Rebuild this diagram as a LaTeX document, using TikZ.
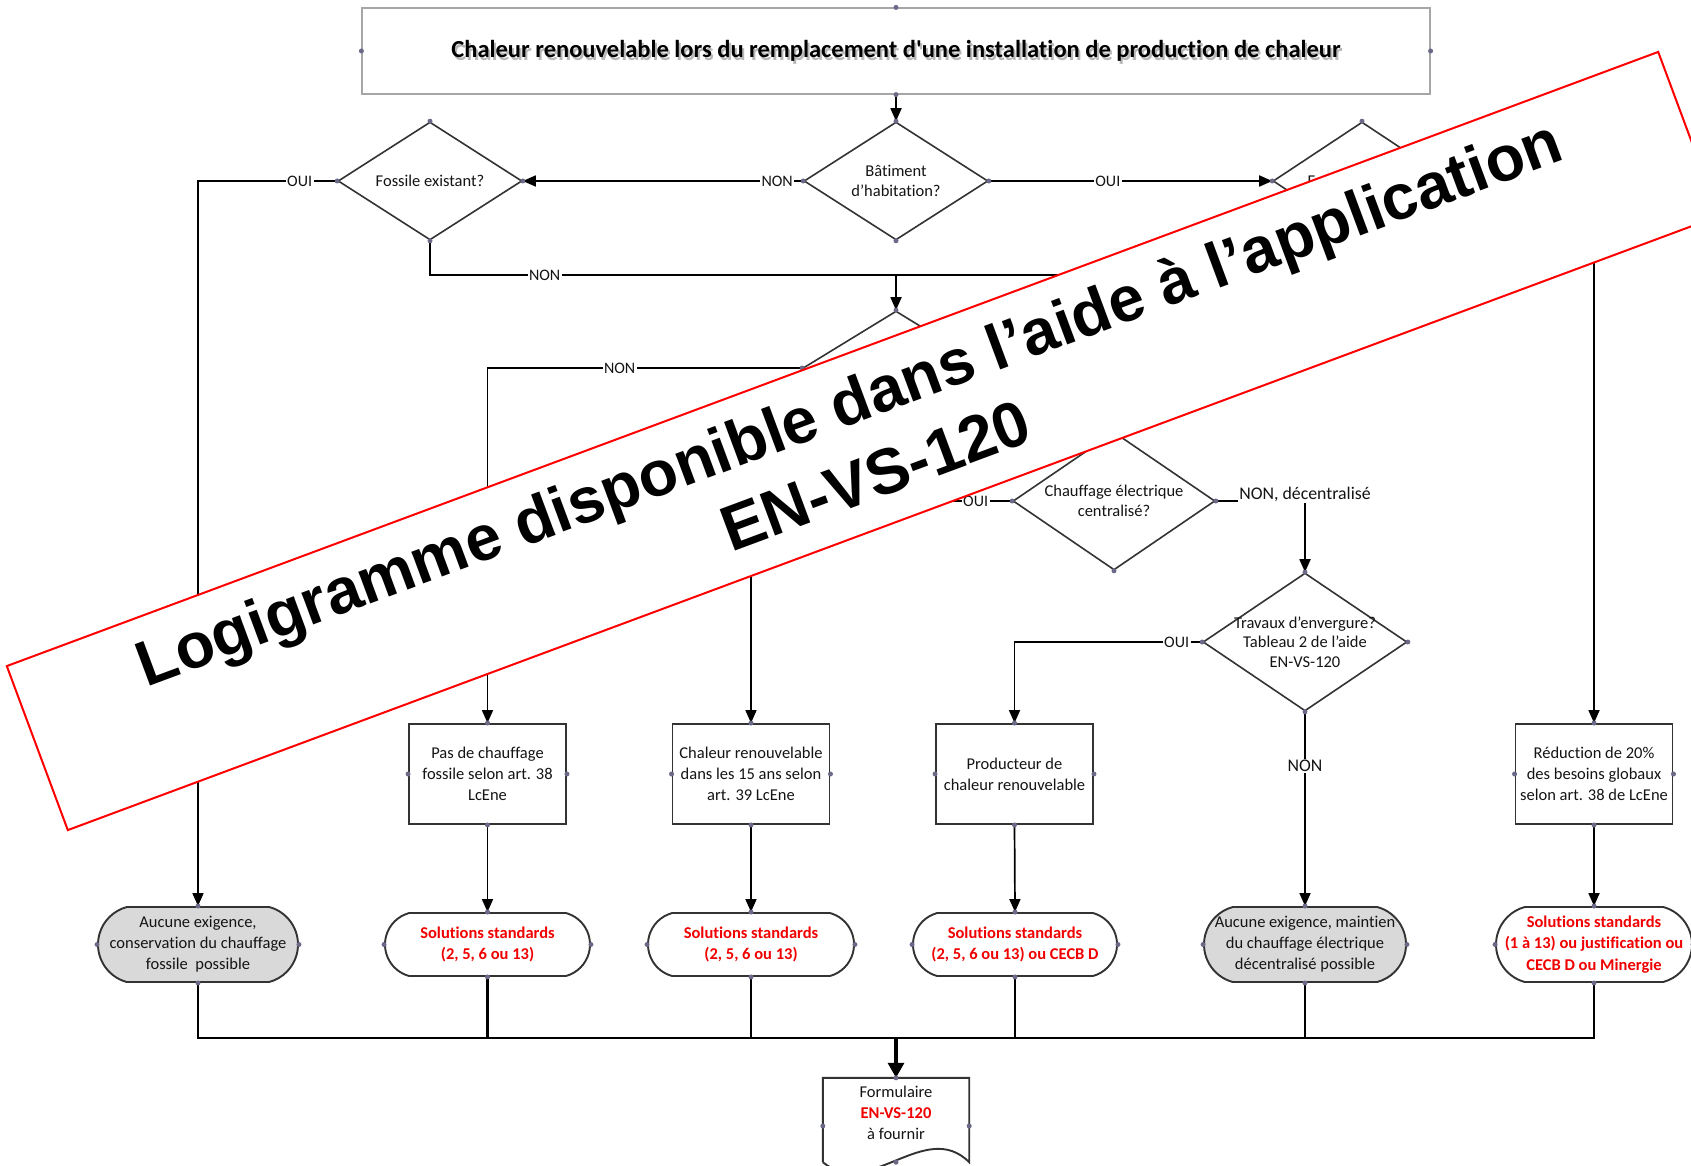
\documentclass[tikz,border=0pt]{standalone}
\usepackage{fontspec}
\setmainfont{Carlito}[Ligatures={TeX,NoCommon}]
\newfontfamily\titlefam{Carlito}[Ligatures={TeXOff,NoCommon}]
\newfontfamily\bannerfont{Liberation Sans}
\usetikzlibrary{shapes.geometric,shapes.misc,arrows.meta,calc}
\definecolor{txt}{HTML}{141414}
\definecolor{edgec}{HTML}{333333}
\definecolor{dotc}{HTML}{6A6A88}
\definecolor{redtxt}{HTML}{F00000}
\definecolor{grayfill}{HTML}{D9D9D9}
\definecolor{titleedge}{HTML}{A6A6A6}
\begin{document}
\begin{tikzpicture}[x=1pt,y=-1pt,
 every node/.style={font=\fontsize{16.5}{21}\selectfont, text=txt},
 conn/.style={line width=1.7pt, black},
 arr/.style={conn, -{Triangle[length=13pt,width=11pt]}},
 decision/.style={diamond, draw=edgec, line width=1.6pt, fill=white, inner sep=0pt},
 dtext/.style={align=center, font=\fontsize{16.5}{19.5}\selectfont},
 ttext/.style={align=center, font=\fontsize{16.5}{21}\selectfont},
 rtext/.style={align=center, text=redtxt, font=\fontsize{16.5}{21.5}\selectfont\bfseries},
 procbox/.style={rectangle, draw=edgec, line width=1.9pt, fill=white, minimum width=157, minimum height=100, align=center, inner sep=0pt},
 term/.style={rounded rectangle, rounded rectangle arc length=150, draw=edgec, line width=1.9pt, fill=white, inner sep=0pt},
 lab/.style={fill=white, inner sep=1.5pt, font=\fontsize{16}{18}\selectfont},
 labbig/.style={fill=white, inner sep=1.5pt, font=\fontsize{17.8}{20}\selectfont},
 titlefont/.style={font=\titlefam\fontsize{24.5}{28}\selectfont\bfseries},
]
\useasboundingbox (0,0) rectangle (1691,1166);
\clip (0,0) rectangle (1691,1166);
\fill[white] (0,0) rectangle (1691,1166);

% title
\node[titlefont, text=black!28, inner sep=0] (titleshadow) at (898,54) {Chaleur renouvelable lors du remplacement d'une installation de production de chaleur};
\node[draw=titleedge, line width=1.2pt, minimum width=1068, minimum height=86, inner sep=0, titlefont, text=black] (title) at (896,51) {Chaleur renouvelable lors du remplacement d'une installation de production de chaleur};

% decisions
\node[decision, minimum width=184, minimum height=118, label={[dtext]center:{Bâtiment\\d’habitation?}}] (bat) at (896,181) {};
\node[decision, minimum width=184, minimum height=118, label={[dtext]center:{Fossile existant?}}] (fosL) at (430,181) {};
\node[decision, minimum width=178, minimum height=118, label={[dtext]center:{Fossile existant?}}] (fosR) at (1362,181) {};
\node[decision, minimum width=186, minimum height=114] (mid) at (896,368) {};
\node[decision, minimum width=202, minimum height=138, label={[dtext]center:{Chauffage électrique\\centralisé?}}] (elec) at (1114,501) {};
\node[decision, minimum width=204, minimum height=138, label={[dtext]center:{Travaux d’envergure?\\Tableau 2 de l’aide\\EN-VS-120}}] (trav) at (1305,642) {};

% process boxes
\node[procbox] (b1) at (487.5,774) {Pas de chauffage\\fossile selon art. 38\\LcEne};
\node[procbox] (b2) at (751,774) {Chaleur renouvelable\\dans les 15 ans selon\\art. 39 LcEne};
\node[procbox] (b3) at (1014.5,774) {Producteur de\\chaleur renouvelable};
\node[procbox] (b4) at (1594,774) {Réduction de 20\%\\des besoins globaux\\selon art. 38 de LcEne};

% terminals
\node[term, fill=grayfill, minimum width=200, minimum height=75, label={[ttext]center:{Aucune exigence,\\conservation du chauffage\\fossile\ \ possible}}] (t1) at (198,944.5) {};
\node[term, minimum width=205, minimum height=63, label={[rtext]center:{Solutions standards\\(2, 5, 6 ou 13)}}] (t2) at (487.5,944.5) {};
\node[term, minimum width=206, minimum height=63, label={[rtext]center:{Solutions standards\\(2, 5, 6 ou 13)}}] (t3) at (751,944.5) {};
\node[term, minimum width=204, minimum height=63, label={[rtext]center:{Solutions standards\\(2, 5, 6 ou 13) ou CECB D}}] (t4) at (1015,944.5) {};
\node[term, fill=grayfill, minimum width=202, minimum height=75, label={[ttext]center:{Aucune exigence, maintien\\du chauffage électrique\\décentralisé possible}}] (t5) at (1305,944.5) {};
\node[term, minimum width=196, minimum height=75, label={[rtext]center:{Solutions standards\\(1 à 13) ou justification ou\\CECB D ou Minergie}}] (t6) at (1594,944.5) {};

% document
\node[minimum width=146, minimum height=70, inner sep=0, align=center] (form) at (896,1113) {Formulaire\\{\color{redtxt}\bfseries EN-VS-120}\\à fournir};
\draw[edgec, line width=1.9pt] ($(form.south west)+(0,14)$) -- (form.north west) -- (form.north east) -- ($(form.south east)+(0,14)$) .. controls +(-44,-44) and +(47,38) .. ($(form.south west)+(0,14)$);

% connectors
\draw[arr] (title.south) -- (bat.north);
\draw[arr] (bat.west) -- node[lab,pos=0.093]{NON} (fosL.east);
\draw[arr] (bat.east) -- node[lab,pos=0.42]{OUI} (fosR.west);
\draw[arr] (fosL.west) -| node[lab,pos=0.135]{OUI} (t1.north);
\coordinate (mj) at (896,275);
\draw[conn] (fosL.south) |- node[lab,pos=0.623]{NON} (mj);
\draw[conn] (fosR.south) |- (mj);
\draw[arr] (mj) -- (mid.north);
\draw[arr] (fosR.east) -| (b4.north);
\draw[arr] (mid.west) -| node[lab,pos=0.29]{NON} (b1.north);
\draw[arr] (mid.east) -| (elec.north);
\draw[arr] (elec.west) -| node[lab,pos=0.07]{OUI} (b2.north);
\draw[arr] (elec.east) -| node[labbig,pos=0.5,yshift=7pt]{NON, décentralisé} (trav.north);
\draw[arr] (trav.west) -| node[lab,pos=0.068]{OUI} (b3.north);
\draw[arr] (trav.south) -- node[labbig,pos=0.279]{NON} (t5.north);
\draw[arr] (b1.south) -- (t2.north);
\draw[arr] (b2.south) -- (t3.north);
\draw[arr] (b3.south) -- (t4.north);
\draw[arr] (b4.south) -- (t6.north);
\coordinate (mb) at (896,1038);
\foreach \t in {t1,t2,t3,t4,t5,t6} \draw[conn, line width=2.1pt] (\t.south) |- (mb);
\draw[black, line width=3.2pt, -{Triangle[length=15pt,width=16pt]}] (mb) -- (form.north);

% connection points
\foreach \n in {title,bat,fosL,fosR,mid,elec,trav,b1,b2,b3,b4,t1,t2,t3,t4,t5,t6}
  \foreach \a in {north,south,east,west} \fill[dotc] (\n.\a) circle (2.5);
\fill[dotc] (form.north) circle (2.5);
\fill[dotc] ($(form.west)+(0,13)$) circle (2.5);
\fill[dotc] ($(form.east)+(0,13)$) circle (2.5);
\fill[dotc] ($(form.south)+(0,14)$) circle (2.5);

% banner
\node[rotate=20.4, draw=red, line width=2pt, fill=white, minimum width=1762, minimum height=175, inner sep=0] (banner) at (863,441) {};
\node[rotate=20.4, anchor=base, inner sep=0, text=black, font=\bannerfont\bfseries\fontsize{64}{70}\selectfont] (bl1) at (856.4,423.2) {Logigramme disponible dans l’aide à l’application};
\node[rotate=20.4, anchor=base, inner sep=0, text=black, font=\bannerfont\bfseries\fontsize{64}{70}\selectfont] (bl2) at (883.6,496.3) {EN-VS-120};
\end{tikzpicture}
\end{document}
